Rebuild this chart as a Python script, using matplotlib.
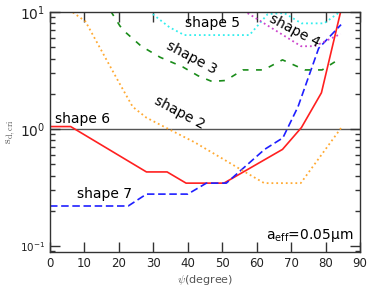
import numpy as np
import matplotlib
matplotlib.use("Agg")
import matplotlib.pyplot as plt

plt.rcParams["mathtext.fontset"] = "dejavusans"

# curves (psi in degrees, s_d,cri)
red_x = [0, 6, 28, 34, 39.5, 50.5, 67.5, 73, 78.8, 85]
red_y = [1.05, 1.05, 0.43, 0.43, 0.345, 0.345, 0.67, 1.03, 2.04, 12.0]

blue_x = [0, 22.7, 28, 40, 45.4, 51.2, 62.3, 67.6, 72, 78, 84.5]
blue_y = [0.22, 0.22, 0.278, 0.278, 0.345, 0.345, 0.67, 0.84, 1.55, 4.9, 7.8]

orange_x = [5.5, 10.3, 14.4, 19.8, 24, 28, 35, 42, 50, 56, 62.2, 72.8, 84.5]
orange_y = [10.5, 8.3, 5.0, 2.57, 1.55, 1.25, 0.98, 0.77, 0.56, 0.44, 0.345, 0.345, 1.02]

green_x = [17.6, 20.3, 22.2, 26.5, 32, 38.5, 43, 47, 51, 56, 62, 67.5, 74, 79, 84.5]
green_y = [10.2, 7.6, 6.6, 5.1, 4.1, 3.4, 2.85, 2.55, 2.6, 3.2, 3.2, 3.9, 3.2, 3.2, 4.05]

cyan_x = [28.8, 31, 34.7, 39, 57.9, 63.2, 68, 73, 79.6, 84.5]
cyan_y = [10.2, 9.0, 7.4, 6.35, 6.35, 9.6, 9.8, 8.0, 8.0, 10.2]

mag_x = [55, 72.9, 76.8, 84.4]
mag_y = [10.8, 5.1, 5.1, 6.5]

fig = plt.figure(figsize=(3.74, 2.92), dpi=100)
ax = fig.add_axes([50 / 374, 1 - 252 / 292, 310 / 374, 240 / 292])

ax.axhline(1.0, color="#555555", lw=1.0, zorder=1)
ax.plot(red_x, red_y, color="#ff2020", lw=1.2)
ax.plot(blue_x, blue_y, color="#1f1fff", lw=1.2, dashes=[4.5, 2.2])
ax.plot(orange_x, orange_y, color="#ffaa33", lw=1.3, ls=":")
ax.plot(green_x, green_y, color="#1a8c1a", lw=1.2, dashes=[3.5, 4.5])
ax.plot(cyan_x, cyan_y, color="#33eeee", lw=1.3, ls=":")
ax.plot(mag_x, mag_y, color="#cc44cc", lw=1.3, ls=":")

ax.set_yscale("log")
ax.set_xlim(0, 90)
ax.set_ylim(0.089, 10)
ax.set_xticks(np.arange(0, 91, 10))

for s in ax.spines.values():
    s.set_color("#333333")
    s.set_linewidth(1.0)
ax.tick_params(which="both", direction="in", top=True, right=True, colors="#333333", labelcolor="#222222")
ax.tick_params(which="major", length=7, width=1.0)
ax.tick_params(which="minor", length=3.5, width=1.0)
ax.tick_params(axis="x", labelsize=8.5)
ax.tick_params(axis="y", labelsize=10)
fig.canvas.draw()
for lab in ax.get_yticklabels():
    if "-1" in lab.get_text() or "−1" in lab.get_text():
        lab.set_fontsize(7.5)

# axis titles use a serif math font, as in the reference
ax.set_xlabel(r"$\psi$(degree)", color="#555555", fontsize=8, labelpad=2, math_fontfamily="cm")
ax.set_ylabel(r"$\mathrm{s}_{\mathrm{d,cri}}$", color="#555555", fontsize=8.5, labelpad=2,
              math_fontfamily="cm")

ax.text(47.2, 8.0, "shape 5", fontsize=10, ha="center", va="center")
ax.text(71, 6.9, "shape 4", fontsize=10, ha="center", va="center", rotation=-28)
ax.text(41, 4.05, "shape 3", fontsize=10, ha="center", va="center", rotation=-28)
ax.text(37.6, 1.37, "shape 2", fontsize=10, ha="center", va="center", rotation=-28)
ax.text(1.4, 1.23, "shape 6", fontsize=10, ha="left", va="center")
ax.text(7.7, 0.278, "shape 7", fontsize=10, ha="left", va="center")
ax.text(62.6, 0.123, r"a$_{\mathrm{eff}}$=0.05μm", fontsize=10, ha="left", va="center")

fig.savefig("out.png", dpi=100)
